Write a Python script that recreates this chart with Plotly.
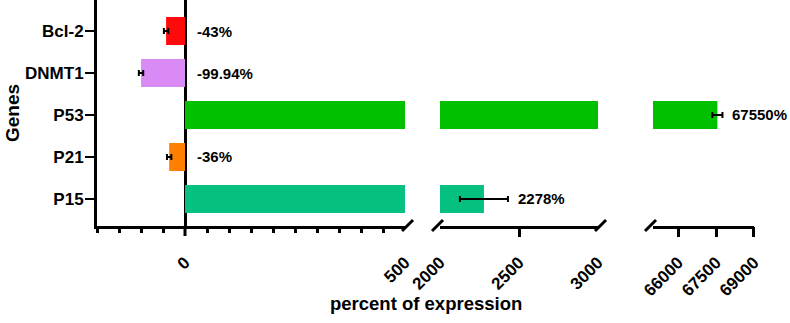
import plotly.graph_objects as go

# ---- data ----
categories = ["Bcl-2", "DNMT1", "P53", "P21", "P15"]
values = [-43, -99.94, 67550, -36, 2278]
errors = [5, 5, 200, 5, 152]
value_labels = ["-43%", "-99.94%", "67550%", "-36%", "2278%"]
colors = ["#FF0A0A", "#D98AF4", "#00C000", "#FF8000", "#05C07E"]

seg_ranges = [[-200, 500], [2000, 3000], [65000, 69000]]
seg_tickvals = [[0, 500], [2000, 2500, 3000], [66000, 67500, 69000]]
seg_ticktext = [["0", "500"], ["2000", "2500", "3000"], ["66000", "67500", "69000"]]
seg_minor = [[-200, -150, -100, -50, 50, 100, 150, 200, 250, 300, 350, 400, 450],
             [2500], [66000, 67500, 69000]]
seg_ticklen = [6, 10, 10]
seg_domains = [[0.0, 0.4688], [0.5221, 0.7626], [0.8463, 1.0]]
# which segment ends carry a "/" axis-break mark
break_left = [False, True, True]
break_right = [True, True, False]

FONT = "Liberation Sans, Arial, sans-serif"

fig = go.Figure()
for i in range(3):
    ax = "x" if i == 0 else f"x{i+1}"
    fig.add_trace(go.Bar(
        y=categories, x=values, orientation="h",
        marker=dict(color=colors, line=dict(width=0)),
        error_x=dict(type="data", array=errors, color="black", thickness=2, width=3),
        width=0.667, xaxis=ax, yaxis="y", showlegend=False, hoverinfo="skip",
    ))
# empty traces so the tick-only overlay axes are instantiated
for i in range(3):
    fig.add_trace(go.Scatter(x=[], y=[], xaxis=f"x{i+4}", yaxis="y", showlegend=False,
                             hoverinfo="skip"))

layout = dict(
    width=790, height=323,
    margin=dict(l=97, r=36, t=0, b=97),
    paper_bgcolor="white", plot_bgcolor="white",
    font=dict(family=FONT, color="black", weight="bold"),
    bargap=0.33,
    yaxis=dict(
        type="category", categoryorder="array", categoryarray=categories[::-1],
        range=[-0.643, 4.738], anchor="x",
        showline=True, linewidth=3, linecolor="black",
        ticks="outside", ticklen=9, tickwidth=2, tickcolor="black",
        ticklabelstandoff=-2,
        tickfont=dict(family=FONT, size=17, color="black", weight="bold"),
        showgrid=False, zeroline=False,
    ),
)
for i in range(3):
    key = "xaxis" if i == 0 else f"xaxis{i+1}"
    layout[key] = dict(
        domain=seg_domains[i], range=seg_ranges[i], anchor="y",
        showline=True, linewidth=3, linecolor="black",
        showgrid=False, zeroline=(i == 0), zerolinecolor="black", zerolinewidth=3,
        tickmode="array", tickvals=seg_tickvals[i], ticktext=seg_ticktext[i],
        ticks="", tickangle=-45, ticklabelstandoff=17,
        tickfont=dict(family=FONT, size=17, color="black", weight="bold"),
    )
    base = "x" if i == 0 else f"x{i+1}"
    layout[f"xaxis{i+4}"] = dict(
        overlaying=base, range=seg_ranges[i], anchor="y", side="bottom",
        showline=False, showgrid=False, zeroline=False, showticklabels=False,
        tickmode="array", tickvals=seg_minor[i],
        ticks="outside", ticklen=seg_ticklen[i], tickwidth=2.5, tickcolor="black",
    )
fig.update_layout(**layout)

shapes = []
# break marks (paper-referenced so they are not clipped to the axis range)
for i in range(3):
    if break_right[i]:
        shapes.append(dict(type="line", xref="paper", xsizemode="pixel", xanchor=seg_domains[i][1],
                           x0=-3, x1=8, yref="paper", ysizemode="pixel", yanchor=0, y0=-5, y1=6,
                           line=dict(color="black", width=3)))
    if break_left[i]:
        shapes.append(dict(type="line", xref="paper", xsizemode="pixel", xanchor=seg_domains[i][0],
                           x0=-8, x1=3, yref="paper", ysizemode="pixel", yanchor=0, y0=-5, y1=6,
                           line=dict(color="black", width=3)))
# longer tick at zero
shapes.append(dict(type="line", xref="x", x0=0, x1=0, yref="paper", ysizemode="pixel",
                   yanchor=0, y0=-10, y1=0, line=dict(color="black", width=3)))
fig.update_layout(shapes=shapes)

annotations = []
for cat, v, e, lab in zip(categories, values, errors, value_labels):
    if v < 0:
        xpos, ax, shift = 0, "x", 10
    else:
        xpos = v + e
        idx = next(k for k, r in enumerate(seg_ranges) if r[0] <= xpos <= r[1])
        ax = "x" if idx == 0 else f"x{idx+1}"
        shift = 8
    annotations.append(dict(x=xpos, y=cat, xref=ax, yref="y", text=lab, showarrow=False,
                            xanchor="left", xshift=shift,
                            font=dict(family=FONT, size=15, color="black", weight="bold")))
annotations.append(dict(x=0.5, y=0, xref="paper", yref="paper", yshift=-77, text="percent of expression",
                        showarrow=False, xanchor="center", yanchor="middle",
                        font=dict(family=FONT, size=18.5, color="black", weight="bold")))
annotations.append(dict(x=0, y=0.5, xref="paper", yref="paper", xshift=-85, text="Genes",
                        textangle=-90, showarrow=False, xanchor="center", yanchor="middle",
                        font=dict(family=FONT, size=19, color="black", weight="bold")))
fig.update_layout(annotations=annotations)

fig.write_html("out.html", config={"displayModeBar": False},
               post_script="document.body.style.margin='0';")
